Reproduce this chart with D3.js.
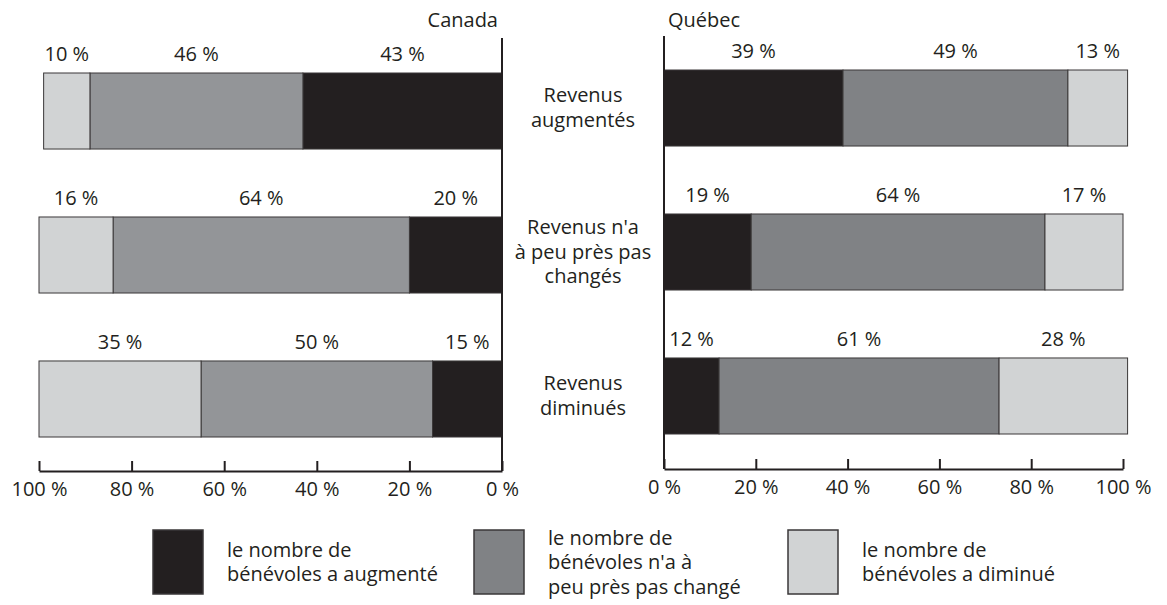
<!DOCTYPE html>
<html lang="fr">
<head>
<meta charset="utf-8">
<script src="https://cdn.jsdelivr.net/npm/d3@7"></script>
<style>
  html, body { margin: 0; padding: 0; background: #fff; }
  svg text { font-family: "Open Sans", "Noto Sans", sans-serif; fill: #231f20; }
</style>
</head>
<body>
<svg id="chart" width="1167" height="605"></svg>
<script>
// Revenue situation of organisations and change in their number of volunteers
const rows = ["Revenus augmentés", "Revenus n'a à peu près pas changés", "Revenus diminués"];
const rowLabels = [["Revenus", "augmentés"], ["Revenus n'a", "à peu près pas", "changés"], ["Revenus", "diminués"]];
const seriesKeys = ["augmente", "pasChange", "diminue"];
const seriesLabels = [
  ["le nombre de", "bénévoles a augmenté"],
  ["le nombre de", "bénévoles n'a à", "peu près pas changé"],
  ["le nombre de", "bénévoles a diminué"]
];
const canadaAugmente  = [43, 20, 15];
const canadaPasChange = [46, 64, 50];
const canadaDiminue   = [10, 16, 35];
const quebecAugmente  = [39, 19, 12];
const quebecPasChange = [49, 64, 61];
const quebecDiminue   = [13, 17, 28];
const tickValues = [0, 20, 40, 60, 80, 100];

const ink = "#231f20";
const canadaColors = ["#231f20", "#939598", "#d1d3d4"];
const quebecColors = ["#231f20", "#808285", "#d1d3d4"];
const legendColors = ["#231f20", "#808285", "#d1d3d4"];

const svg = d3.select("#chart");
const fontSize = 20;

function buildTable(a, p, d) {
  return rows.map((r, i) => ({ row: r, augmente: a[i], pasChange: p[i], diminue: d[i] }));
}

function drawPanel(opts) {
  const { table, x, y, colors, axisY, lineTop, title, titleX, titleAnchor } = opts;
  const stacked = d3.stack().keys(seriesKeys)(table);
  const g = svg.append("g");

  stacked.forEach((layer, k) => {
    const seg = g.selectAll(null).data(layer).enter();
    seg.append("rect")
      .attr("x", d => Math.min(x(d[0]), x(d[1])))
      .attr("y", d => y(d.data.row))
      .attr("width", d => Math.abs(x(d[1]) - x(d[0])))
      .attr("height", y.bandwidth())
      .attr("fill", colors[k])
      .attr("stroke", "#3a3738")
      .attr("stroke-width", 1);
    seg.append("text")
      .attr("x", d => (x(d[0]) + x(d[1])) / 2)
      .attr("y", d => y(d.data.row) - 12)
      .attr("text-anchor", "middle")
      .attr("font-size", fontSize)
      .text(d => `${d[1] - d[0]} %`);
  });

  // zero line
  g.append("line")
    .attr("x1", x(0)).attr("x2", x(0))
    .attr("y1", lineTop).attr("y2", axisY)
    .attr("stroke", ink).attr("stroke-width", 2);

  // percentage axis
  const axis = d3.axisBottom(x).tickValues(tickValues).tickSize(0).tickFormat(v => `${v} %`);
  const ag = g.append("g").attr("transform", `translate(0,${axisY})`).call(axis);
  ag.select(".domain").attr("stroke", ink).attr("stroke-width", 2);
  ag.selectAll(".tick line").attr("y2", -10).attr("stroke", ink).attr("stroke-width", 2);
  ag.selectAll(".tick text")
    .attr("y", 25)
    .attr("dy", 0)
    .attr("font-size", fontSize)
    .attr("font-family", null)
    .attr("fill", ink);

  g.append("text")
    .attr("x", titleX).attr("y", 27)
    .attr("text-anchor", titleAnchor)
    .attr("font-size", fontSize)
    .text(title);
}

const yCanada = d3.scaleBand().domain(rows).range([73, 437]).paddingInner(0.472).paddingOuter(0);
const yQuebec = d3.scaleBand().domain(rows).range([70, 434]).paddingInner(0.472).paddingOuter(0);
const xCanada = d3.scaleLinear().domain([100, 0]).range([39, 502]);
const xQuebec = d3.scaleLinear().domain([0, 100]).range([664, 1123]);

drawPanel({
  table: buildTable(canadaAugmente, canadaPasChange, canadaDiminue),
  x: xCanada, y: yCanada, colors: canadaColors,
  axisY: 471, lineTop: 38, title: "Canada", titleX: 498, titleAnchor: "end"
});
drawPanel({
  table: buildTable(quebecAugmente, quebecPasChange, quebecDiminue),
  x: xQuebec, y: yQuebec, colors: quebecColors,
  axisY: 469, lineTop: 36, title: "Québec", titleX: 668, titleAnchor: "start"
});

// row labels between the panels
const lineH = 24.5;
rowLabels.forEach((lines, i) => {
  const cy = (yCanada(rows[i]) + yQuebec(rows[i])) / 2 + yCanada.bandwidth() / 2 - 2;
  const t = svg.append("text")
    .attr("text-anchor", "middle")
    .attr("font-size", fontSize);
  lines.forEach((ln, j) => {
    t.append("tspan")
      .attr("x", 583)
      .attr("y", cy + (j - (lines.length - 1) / 2) * lineH + 7)
      .text(ln);
  });
});

// legend
const legendX = [153, 474, 788];
const legendY = 530, swW = 50, swH = 64, legendLineH = 24.5;
seriesKeys.forEach((k, i) => {
  const lg = svg.append("g");
  lg.append("rect")
    .attr("x", legendX[i]).attr("y", legendY)
    .attr("width", swW).attr("height", swH)
    .attr("fill", legendColors[i])
    .attr("stroke", "#3a3738").attr("stroke-width", 1.5);
  const lines = seriesLabels[i];
  const cy = legendY + swH / 2;
  const t = lg.append("text").attr("font-size", fontSize);
  lines.forEach((ln, j) => {
    t.append("tspan")
      .attr("x", legendX[i] + swW + 24)
      .attr("y", cy + (j - (lines.length - 1) / 2) * legendLineH + 7)
      .text(ln);
  });
});
</script>
</body>
</html>
